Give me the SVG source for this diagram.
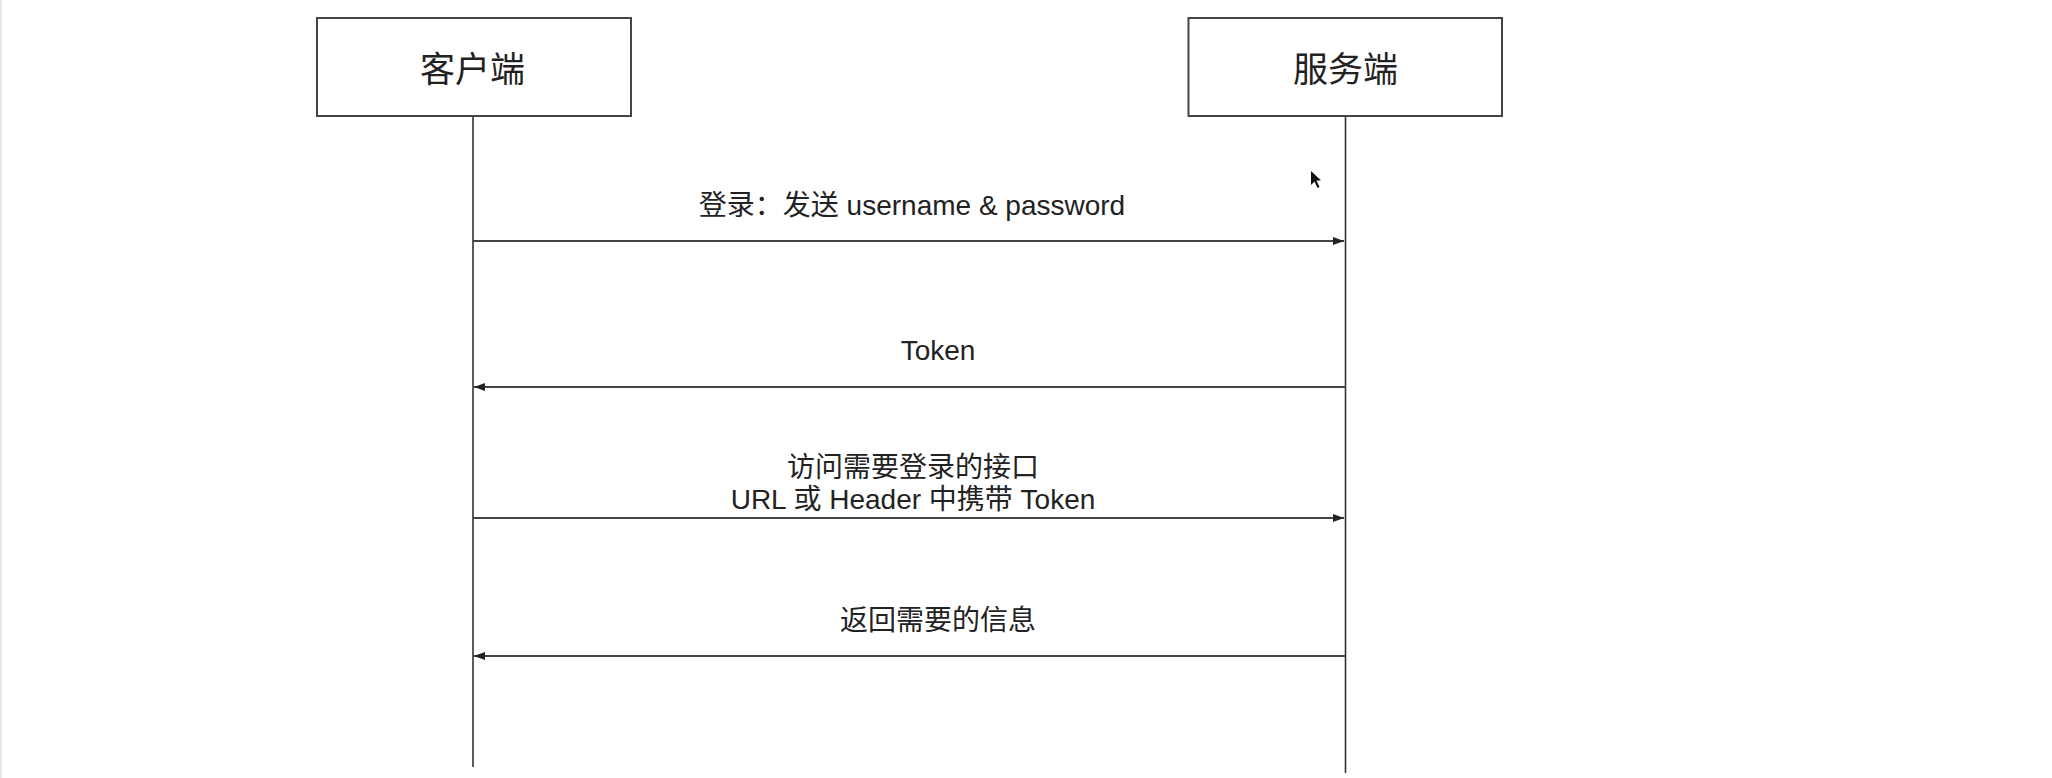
<svg xmlns="http://www.w3.org/2000/svg" width="2052" height="778" viewBox="0 0 2052 778">
<style>
.box{fill:#fff;stroke:#444;stroke-width:2}
.life{stroke:#333;stroke-width:1.6;fill:none}
.msg{stroke:#444;stroke-width:2;fill:none}
.title{font-family:"Liberation Sans","Noto Sans CJK SC",sans-serif;font-size:35px;fill:#222;text-anchor:middle}
.lbl{font-family:"Liberation Sans","Noto Sans CJK SC",sans-serif;font-size:28px;fill:#222;text-anchor:middle}
</style>
<defs>
<marker id="arr" markerUnits="userSpaceOnUse" markerWidth="12" markerHeight="10" refX="11" refY="4" orient="auto">
<path d="M0,0 L11,4 L0,8 Z" fill="#222"/>
</marker>
</defs>
<rect x="0" y="0" width="2052" height="778" fill="#fff"/>
<rect x="0" y="0" width="2" height="778" fill="#e6e6e6"/>
<g id="connectors">
<line class="life" x1="473" y1="116" x2="473" y2="767"/>
<line class="life" x1="1345.5" y1="116" x2="1345.5" y2="773"/>
<line class="msg" x1="473" y1="241" x2="1344" y2="241" marker-end="url(#arr)"/>
<line class="msg" x1="1345" y1="387" x2="474" y2="387" marker-end="url(#arr)"/>
<line class="msg" x1="473" y1="518" x2="1344" y2="518" marker-end="url(#arr)"/>
<line class="msg" x1="1345" y1="656" x2="474" y2="656" marker-end="url(#arr)"/>
</g>
<g id="client">
<rect class="box" x="317" y="18" width="314" height="98"/>
<text class="title" x="472.5" y="82">客户端</text>
</g>
<g id="server">
<rect class="box" x="1188.5" y="18" width="313.5" height="98"/>
<text class="title" x="1345.5" y="82">服务端</text>
</g>
<g id="labels">
<text class="lbl" x="912" y="215">登录：发送 username &amp; password</text>
<text class="lbl" x="938" y="360">Token</text>
<text class="lbl" x="913" y="477">访问需要登录的接口</text>
<text class="lbl" x="913" y="509">URL 或 Header 中携带 Token</text>
<text class="lbl" x="938" y="630">返回需要的信息</text>
</g>
<path d="M1311,171 L1311,185 L1314.5,181.5 L1317.5,188 L1319.5,187 L1316.5,180.5 L1321,180.5 Z" fill="#111"/>
</svg>
